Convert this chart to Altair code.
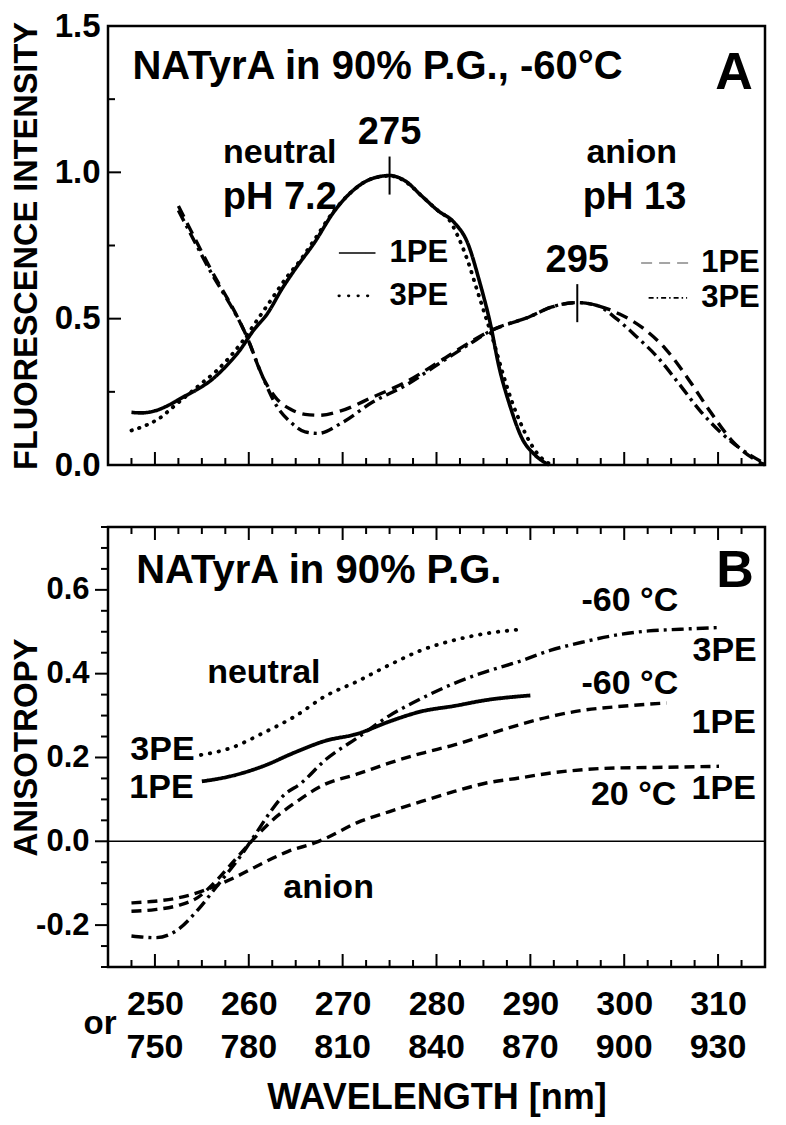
import altair as alt
import pandas as pd

# ---------------- Panel A: fluorescence spectra (-60 C) ----------------
# neutral (pH 7.2), 1PE  (solid)
a_neu1_wl = [247.5, 248.5, 250, 251.5, 253, 254.5, 256, 257.5, 259, 260.5, 262, 263.5, 265, 267, 269, 271, 273, 275,
             276.7, 278.4, 280.2, 281.9, 283.3, 284.6, 285.7, 286.7, 287.8, 289.1, 290.5, 292]
a_neu1_val = [0.18, 0.178, 0.185, 0.205, 0.232, 0.258, 0.29, 0.335, 0.39, 0.46, 0.518, 0.6, 0.672, 0.76, 0.862, 0.935, 0.977, 0.989,
              0.97, 0.92, 0.868, 0.828, 0.76, 0.625, 0.488, 0.33, 0.205, 0.092, 0.034, 0.0]
# neutral (pH 7.2), 3PE  (dotted)
a_neu3_wl = [247.5, 249, 250.5, 252, 253.5, 255, 256.5, 258, 259.5, 261, 262.5, 264, 265.5, 267, 269, 271, 273, 275,
             276.7, 278.4, 280.2, 281.3, 282.3, 283.3, 284.3, 285.2, 286, 287, 288, 289, 290, 291, 292.3]
a_neu3_val = [0.118, 0.135, 0.16, 0.2, 0.24, 0.28, 0.32, 0.37, 0.43, 0.5, 0.57, 0.64, 0.7, 0.77, 0.865, 0.935, 0.977, 0.988,
              0.968, 0.92, 0.868, 0.84, 0.78, 0.70, 0.60, 0.51, 0.43, 0.32, 0.22, 0.14, 0.075, 0.03, 0.0]
# anion (pH 13), 1PE  (dashed)
a_ani1_wl = [252.5, 255.6, 259.9, 261.5, 263, 264.5, 266, 267.5, 269.8, 273.2, 276.7, 280.2, 283.6, 285.8, 289.8, 292.3, 295,
             297.1, 299.5, 301.9, 304.4, 306.8, 309.2, 311.6, 314, 315]
a_ani1_val = [0.885, 0.69, 0.43, 0.3, 0.225, 0.19, 0.173, 0.17, 0.185, 0.232, 0.283, 0.351, 0.42, 0.459, 0.505, 0.54, 0.555,
              0.545, 0.516, 0.47, 0.397, 0.295, 0.181, 0.079, 0.017, 0.0]
# anion (pH 13), 3PE  (dash-dot)
a_ani3_wl = [252.5, 255.6, 259.9, 261.5, 263, 264.5, 266, 267.4, 269.8, 273.2, 276.7, 280.2, 283.6, 285.8, 289.8, 292.3, 295,
             297.1, 299.2, 301.2, 303.7, 305.7, 308.2, 310.6, 313.4, 315]
a_ani3_val = [0.87, 0.68, 0.43, 0.3, 0.2, 0.145, 0.113, 0.108, 0.142, 0.215, 0.272, 0.345, 0.415, 0.459, 0.505, 0.54, 0.555,
              0.545, 0.499, 0.442, 0.363, 0.283, 0.181, 0.102, 0.034, 0.005]
# peak positions
peak_wl = [275, 295]
peak_val = [0.989, 0.553]
peak_txt = ["275", "295"]

# ---------------- Panel B: anisotropy ----------------
b_neu3_wl = [254.9, 258, 261.5, 264.9, 268.2, 271.5, 275, 278.4, 281.9, 285.3, 289.3]
b_neu3_val = [0.206, 0.222, 0.258, 0.298, 0.347, 0.381, 0.421, 0.456, 0.48, 0.496, 0.506]
b_neu1_wl = [255, 258, 261.5, 264.9, 268.2, 271.5, 275, 278.4, 281.9, 285.3, 290]
b_neu1_val = [0.143, 0.155, 0.179, 0.212, 0.24, 0.256, 0.286, 0.31, 0.323, 0.337, 0.348]
b_ani3_wl = [247.5, 250.1, 252.5, 254.6, 256.6, 259.1, 260.8, 262.2, 263.6, 265.6, 268.2, 271.5, 275, 278.4, 281.9, 285.3,
             288.8, 292.2, 295.7, 299.1, 302.6, 306, 310.1]
b_ani3_val = [-0.226, -0.23, -0.21, -0.163, -0.107, -0.036, 0.02, 0.067, 0.107, 0.139, 0.195, 0.246, 0.30, 0.341, 0.377, 0.405,
              0.429, 0.456, 0.476, 0.492, 0.502, 0.506, 0.51]
b_ani1m60_wl = [247.5, 250, 252.5, 254.5, 256.5, 258.5, 260.5, 262.5, 265, 268, 271.5, 275, 278.4, 281.9, 285.3, 288.8, 292.2,
                295.7, 299.1, 304.5]
b_ani1m60_val = [-0.167, -0.163, -0.153, -0.135, -0.095, -0.045, 0.005, 0.05, 0.093, 0.135, 0.16, 0.187, 0.21, 0.23, 0.254,
                 0.278, 0.298, 0.313, 0.321, 0.33]
b_ani1p20_wl = [247.5, 250, 252.5, 255.5, 258.8, 261.5, 264.2, 267, 268, 271.5, 275, 278.4, 281.9, 285.3, 288.8, 292.2, 295.7,
                299.1, 302.6, 310.1]
b_ani1p20_val = [-0.147, -0.143, -0.135, -0.115, -0.083, -0.052, -0.024, -0.004, 0.005, 0.044, 0.071, 0.095, 0.119, 0.139,
                 0.151, 0.163, 0.171, 0.175, 0.176, 0.179]

# axis tick values / labels
x_major = [250, 260, 270, 280, 290, 300, 310]          # 1PE excitation wavelength labels
x_row2 = [750, 780, 810, 840, 870, 900, 930]           # matching 3PE excitation labels
x_minor = [247.5 + 2.5 * i for i in range(27) if (247.5 + 2.5 * i) % 10 != 0]
yA_major = [0.0, 0.5, 1.0, 1.5]
yA_minor = [0.25, 0.75, 1.25]
yB_major = [-0.2, 0.0, 0.2, 0.4, 0.6]
yB_minor = [round(-0.3 + 0.05 * i, 2) for i in range(22) if round((-0.3 + 0.05 * i) * 100) % 20 != 0]

# ---------------- layout / style ----------------
FONT = "Liberation Sans"
W, HA, HB = 657, 439, 440
xs = alt.Scale(domain=[245, 315], nice=False, zero=False)
ysA = alt.Scale(domain=[0, 1.5], nice=False, zero=False)
ysB = alt.Scale(domain=[-0.3, 0.75], nice=False, zero=False)

axA_y = alt.Axis(values=yA_major, labelExpr="format(datum.value, '.1f')", domain=False, ticks=False, grid=False,
                 labelFont=FONT, labelFontWeight="bold", labelFontSize=33, labelColor="black", labelPadding=8,
                 title="FLUORESCENCE INTENSITY", titleFont=FONT, titleFontWeight="bold", titleFontSize=32.5,
                 titleColor="black", titleAngle=270, titleX=-82, titleY=HA / 2, titleAlign="center",
                 titleBaseline="middle")
axB_y = alt.Axis(values=yB_major,
                 labelExpr="datum.value < 0 ? '-' + format(-datum.value, '.1f') : format(datum.value, '.1f')",
                 domain=False, ticks=False, grid=False, labelFont=FONT, labelFontWeight="bold", labelFontSize=31,
                 labelColor="black", labelPadding=19, title="ANISOTROPY", titleFont=FONT, titleFontWeight="bold",
                 titleFontSize=33, titleColor="black", titleAngle=270, titleX=-82, titleY=HB / 2, titleAlign="center",
                 titleBaseline="middle")
axB_x = alt.Axis(values=x_major, format="d", domain=False, ticks=False,
                 grid=False, labelFont=FONT, labelFontWeight="bold", labelFontSize=34, labelColor="black",
                 labelPadding=20, title="WAVELENGTH [nm]", titleFont=FONT, titleFontWeight="bold",
                 titleFontSize=36, titleColor="black", titleY=130, titleBaseline="middle")


def X(field="wl", axis=None):
    return alt.X(f"{field}:Q", scale=xs, axis=axis)


def line(wl, val, ysc, xax, yax, dash, width=3.4, cap="butt", color="black"):
    df = pd.DataFrame({"wl": wl, "val": val})
    return alt.Chart(df).mark_line(strokeDash=dash, strokeWidth=width, strokeCap=cap, color=color,
                                   interpolate="monotone").encode(
        x=X("wl", xax), y=alt.Y("val:Q", scale=ysc, axis=yax))


def texts(rows, ysc, xax, yax, align):
    df = pd.DataFrame(rows, columns=["txt", "wl", "val", "fs"])
    return alt.Chart(df).mark_text(font=FONT, fontWeight="bold", color="black", align=align,
                                   baseline="middle").encode(
        x=X("wl", xax), y=alt.Y("val:Q", scale=ysc, axis=yax), text="txt:N", size=alt.Size("fs:Q", scale=None))


def xticks(vals, h, length, xax, top=False):
    df = pd.DataFrame({"wl": vals})
    y0, y1 = (0, length) if top else (h, h - length)
    return alt.Chart(df).mark_rule(strokeWidth=2, color="black").encode(
        x=X("wl", xax), y=alt.value(y0), y2=alt.value(y1))


def yticks(vals, ysc, yax, x0, x1):
    df = pd.DataFrame({"val": vals})
    return alt.Chart(df).mark_rule(strokeWidth=2, color="black").encode(
        y=alt.Y("val:Q", scale=ysc, axis=yax), x=alt.value(x0), x2=alt.value(x1))


# ---------------- Panel A ----------------
peaks = pd.DataFrame({"wl": peak_wl, "val": [v - 0.065 for v in peak_val], "val2": [v + 0.065 for v in peak_val]})
peak_rules = alt.Chart(peaks).mark_rule(strokeWidth=2, color="black").encode(
    x=X("wl", None), y=alt.Y("val:Q", scale=ysA, axis=axA_y), y2="val2:Q")

leg = pd.DataFrame({"x1": [269.6, 269.6, 301.8, 302.6], "x2": [273.5, 273.5, 307.0, 306.7],
                    "val": [0.724, 0.578, 0.690, 0.571], "k": ["s", "d", "da", "dd"]})


def leg_rule(k, dash, width, color="black", cap="butt"):
    return alt.Chart(leg[leg.k == k]).mark_rule(strokeDash=dash, strokeWidth=width, color=color,
                                                 strokeCap=cap).encode(
        x=X("x1", None), x2="x2:Q", y=alt.Y("val:Q", scale=ysA, axis=axA_y))


textA_left = [["NATyrA in 90% P.G., -60°C", 247.6, 1.361, 40],
              ["1PE", 275.0, 0.724, 31], ["3PE", 275.0, 0.578, 31],
              ["1PE", 308.2, 0.690, 31], ["3PE", 308.2, 0.571, 31]]
textA_center = [["A", 311.7, 1.34, 52], ["neutral", 263.3, 1.065, 34], ["pH 7.2", 263.3, 0.912, 38],
                ["anion", 300.8, 1.065, 34], ["pH 13", 301.1, 0.912, 38]] + \
               [[t, w, v + 0.145, 38] for t, w, v in zip(peak_txt, peak_wl, peak_val)]

panelA = alt.layer(
    line(a_neu1_wl, a_neu1_val, ysA, None, axA_y, [1, 0], 3.6),
    line(a_neu3_wl, a_neu3_val, ysA, None, axA_y, [0.5, 7.5], 3.8, "round"),
    line(a_ani1_wl, a_ani1_val, ysA, None, axA_y, [12, 7], 3.4),
    line(a_ani3_wl, a_ani3_val, ysA, None, axA_y, [12, 5, 3, 5], 3.4),
    peak_rules,
    leg_rule("s", [1, 0], 1.5),
    leg_rule("d", [0.5, 9], 2.8, cap="round"),
    leg_rule("da", [11, 7], 1.5, color="#888888"),
    leg_rule("dd", [5, 3, 1.5, 3], 1.6),
    texts(textA_left, ysA, None, axA_y, "left"),
    texts(textA_center, ysA, None, axA_y, "center"),
    xticks(x_major, HA, 13, None),
    xticks(x_minor, HA, 7, None),
    yticks(yA_major, ysA, axA_y, 0, 13),
    yticks(yA_minor, ysA, axA_y, 0, 7),
).properties(width=W, height=HA)

# ---------------- Panel B ----------------
zero = alt.Chart(pd.DataFrame({"val": [0.0]})).mark_rule(strokeWidth=1.5, color="black").encode(
    y=alt.Y("val:Q", scale=ysB, axis=axB_y))

textB_left = [["NATyrA in 90% P.G.", 248.0, 0.645, 40]]
textB_center = [["B", 311.8, 0.645, 52],
                ["-60 °C", 300.6, 0.574, 34], ["3PE", 310.7, 0.455, 34],
                ["-60 °C", 300.6, 0.376, 34], ["1PE", 310.6, 0.283, 34],
                ["20 °C", 301.0, 0.110, 34], ["1PE", 310.6, 0.124, 34],
                ["neutral", 261.6, 0.402, 34], ["3PE", 250.8, 0.217, 34], ["1PE", 250.7, 0.126, 34],
                ["anion", 268.5, -0.112, 34]]

row2 = alt.Chart(pd.DataFrame({"wl": x_major, "t": [str(v) for v in x_row2]})).mark_text(
    font=FONT, fontWeight="bold", fontSize=34, color="black", align="center", baseline="middle").encode(
    x=X("wl", axB_x), text="t:N", y=alt.value(HB + 81))

or_text = alt.Chart(pd.DataFrame({"t": ["or"]})).mark_text(
    font=FONT, fontWeight="bold", fontSize=33, color="black", align="center", baseline="middle").encode(
    text="t:N", x=alt.value(-8), y=alt.value(HB + 57))

panelB = alt.layer(
    zero,
    line(b_neu3_wl, b_neu3_val, ysB, axB_x, axB_y, [0.5, 8.5], 3.8, "round"),
    line(b_neu1_wl, b_neu1_val, ysB, axB_x, axB_y, [1, 0], 3.8),
    line(b_ani3_wl, b_ani3_val, ysB, axB_x, axB_y, [12, 5, 3, 5], 3.4),
    line(b_ani1m60_wl, b_ani1m60_val, ysB, axB_x, axB_y, [10, 6], 3.4),
    line(b_ani1p20_wl, b_ani1p20_val, ysB, axB_x, axB_y, [10, 6], 3.4),
    texts(textB_left, ysB, axB_x, axB_y, "left"),
    texts(textB_center, ysB, axB_x, axB_y, "center"),
    xticks(x_major, HB, 13, axB_x),
    xticks(x_minor, HB, 7, axB_x),
    xticks(x_major, HB, 13, axB_x, top=True),
    xticks(x_minor, HB, 7, axB_x, top=True),
    yticks(yB_major, ysB, axB_y, 0, -13),
    yticks(yB_minor, ysB, axB_y, 0, -7),
    row2,
    or_text,
).properties(width=W, height=HB)

chart = alt.vconcat(panelA, panelB, spacing=40).properties(
    padding={"left": 0, "top": 0, "right": 0, "bottom": 0}
).configure_view(stroke="black", strokeWidth=2.5)

chart.save("out.html", embed_options={"renderer": "svg", "actions": False})
